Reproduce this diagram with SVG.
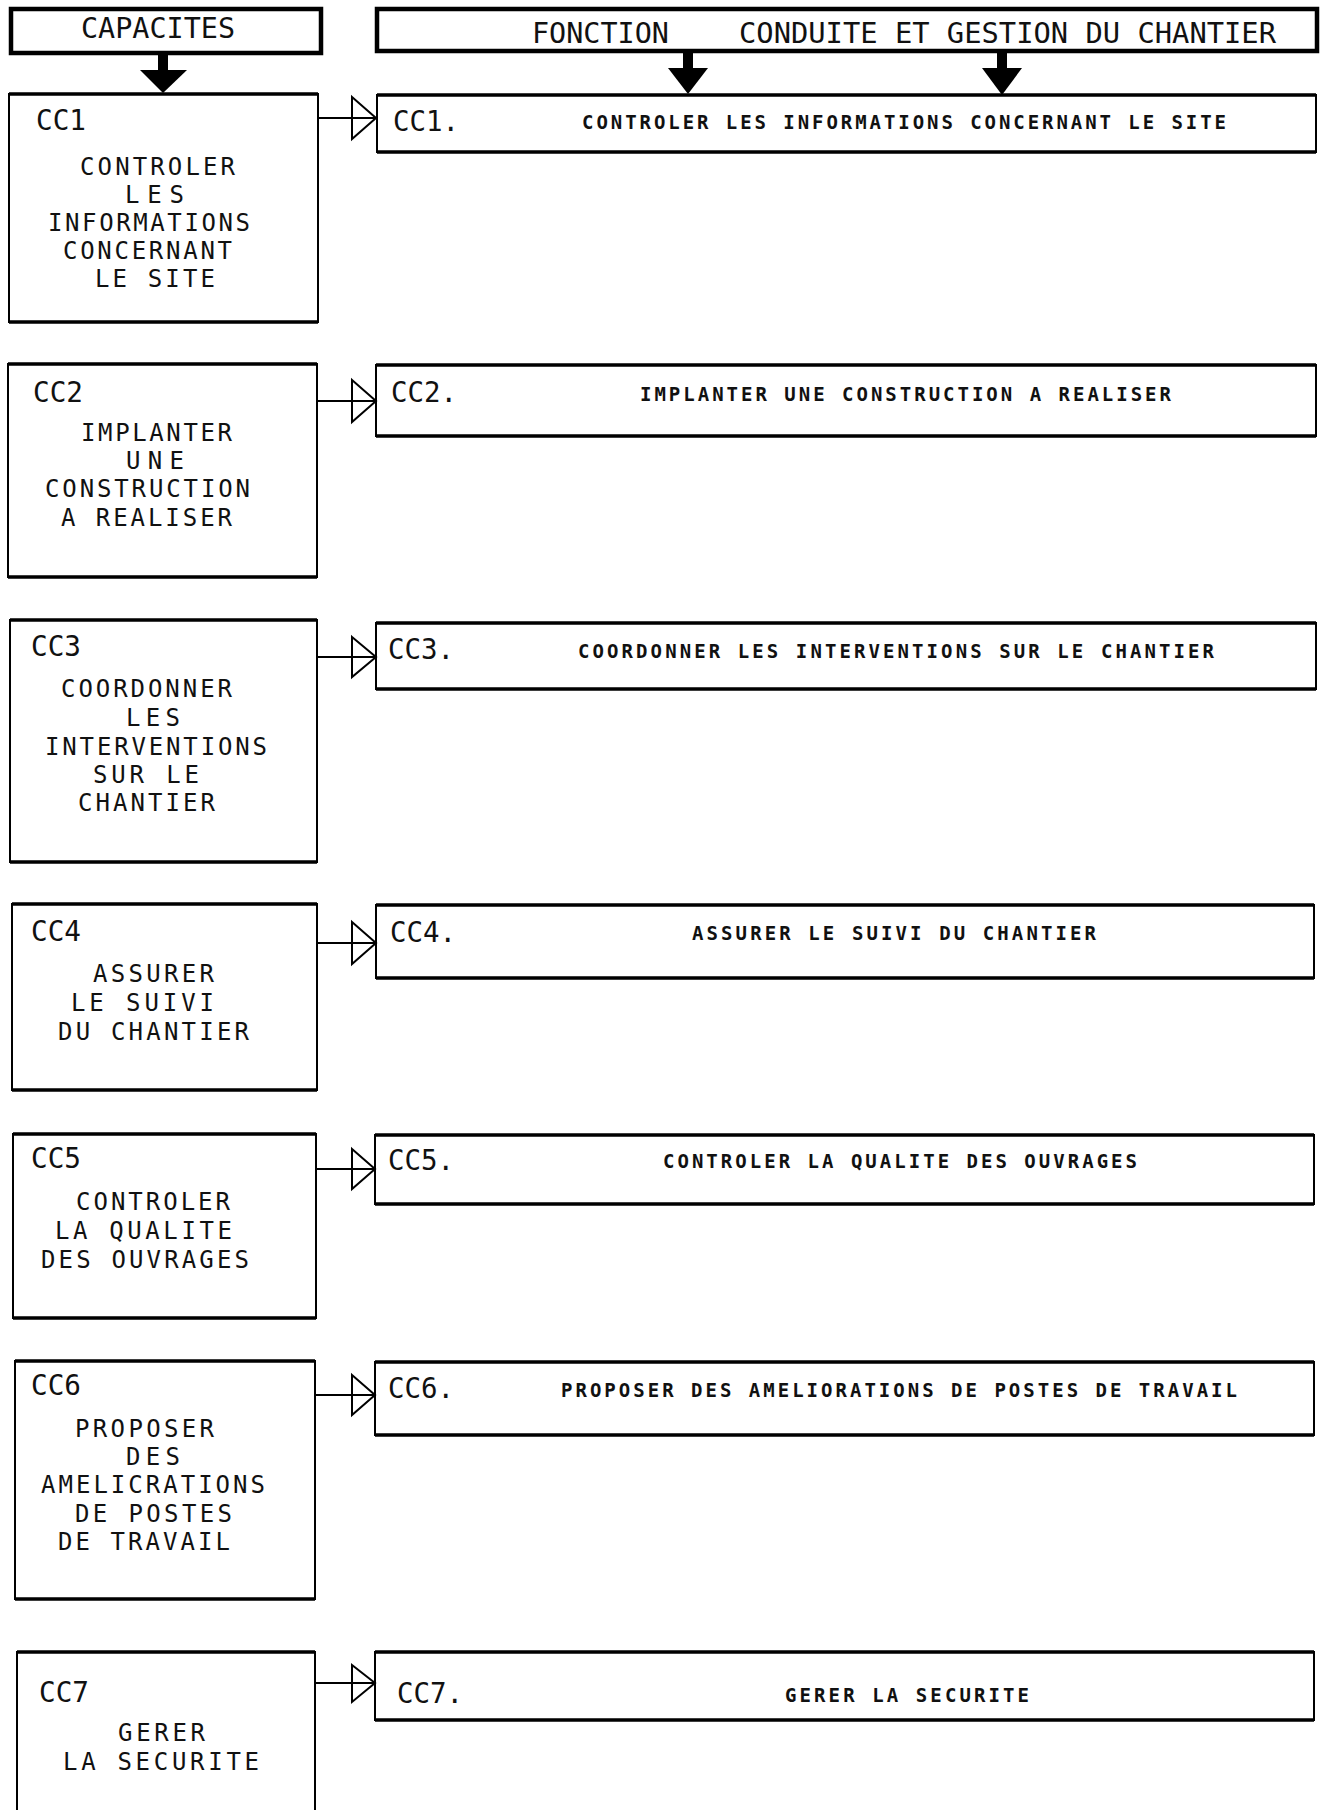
<svg xmlns="http://www.w3.org/2000/svg" width="1324" height="1810" viewBox="0 0 1324 1810">
<style>
.bg{fill:#fff}
.box{fill:none;stroke:#000;stroke-width:2}
.tb{fill:none;stroke:#000;stroke-width:3.5}
.hdr{fill:none;stroke:#000;stroke-width:4.5}
.ln{fill:none;stroke:#000;stroke-width:2.2}
.tri{fill:none;stroke:#000;stroke-width:2}
.stem{fill:none;stroke:#000;stroke-width:10}
.ah{fill:#000;stroke:none}
text{font-family:"DejaVu Sans Mono","Liberation Mono",monospace;fill:#111}
.head{font-size:29px}
.body{font-size:24px}
.lab{font-size:29px}
.sm{font-size:19px;font-weight:bold}
</style>
<rect class="bg" x="0" y="0" width="1324" height="1810"/>

<g id="hdr-capacites">
<rect class="hdr" x="11" y="9" width="310" height="44"/>
<text class="head" x="81" y="38" textLength="154" lengthAdjust="spacingAndGlyphs">CAPACITES</text>
</g>
<g id="hdr-fonction">
<rect class="hdr" x="377" y="9" width="940" height="42"/>
<text class="head" x="532" y="43" textLength="137" lengthAdjust="spacingAndGlyphs">FONCTION</text>
<text class="head" x="739" y="43" textLength="537" lengthAdjust="spacingAndGlyphs">CONDUITE ET GESTION DU CHANTIER</text>
</g>

<g id="cc1-cap">
<rect class="box" x="9" y="94" width="309" height="228"/>
<path class="tb" d="M9 94H318M9 322H318"/>
<text class="lab" x="36" y="130" textLength="50" lengthAdjust="spacingAndGlyphs">CC1</text>
<text class="body"><tspan x="80" y="175" textLength="155" lengthAdjust="spacing">CONTROLER</tspan><tspan x="125" y="203" textLength="59" lengthAdjust="spacing">LES</tspan><tspan x="48" y="231" textLength="202" lengthAdjust="spacing">INFORMATIONS</tspan><tspan x="63" y="259" textLength="169" lengthAdjust="spacing">CONCERNANT</tspan><tspan x="95" y="287" textLength="120" lengthAdjust="spacing">LE SITE</tspan></text>
</g>
<g id="cc1-fn">
<rect class="box" x="377" y="95" width="939" height="57"/>
<path class="tb" d="M377 95H1316M377 152H1316"/>
<text class="lab" x="393" y="131" textLength="66" lengthAdjust="spacingAndGlyphs">CC1.</text>
<text class="sm" x="582" y="129" textLength="644" lengthAdjust="spacing">CONTROLER LES INFORMATIONS CONCERNANT LE SITE</text>
</g>

<g id="cc2-cap">
<rect class="box" x="8" y="364" width="309" height="213"/>
<path class="tb" d="M8 364H317M8 577H317"/>
<text class="lab" x="33" y="402" textLength="50" lengthAdjust="spacingAndGlyphs">CC2</text>
<text class="body"><tspan x="81" y="441" textLength="151" lengthAdjust="spacing">IMPLANTER</tspan><tspan x="126" y="469" textLength="58" lengthAdjust="spacing">UNE</tspan><tspan x="45" y="497" textLength="205" lengthAdjust="spacing">CONSTRUCTION</tspan><tspan x="61" y="526" textLength="171" lengthAdjust="spacing">A REALISER</tspan></text>
</g>
<g id="cc2-fn">
<rect class="box" x="376" y="365" width="940" height="71"/>
<path class="tb" d="M376 365H1316M376 436H1316"/>
<text class="lab" x="391" y="402" textLength="66" lengthAdjust="spacingAndGlyphs">CC2.</text>
<text class="sm" x="640" y="401" textLength="531" lengthAdjust="spacing">IMPLANTER UNE CONSTRUCTION A REALISER</text>
</g>

<g id="cc3-cap">
<rect class="box" x="10" y="620" width="307" height="242"/>
<path class="tb" d="M10 620H317M10 862H317"/>
<text class="lab" x="31" y="656" textLength="50" lengthAdjust="spacingAndGlyphs">CC3</text>
<text class="body"><tspan x="61" y="697" textLength="171" lengthAdjust="spacing">COORDONNER</tspan><tspan x="126" y="726" textLength="54" lengthAdjust="spacing">LES</tspan><tspan x="45" y="755" textLength="222" lengthAdjust="spacing">INTERVENTIONS</tspan><tspan x="93" y="783" textLength="106" lengthAdjust="spacing">SUR LE</tspan><tspan x="78" y="811" textLength="137" lengthAdjust="spacing">CHANTIER</tspan></text>
</g>
<g id="cc3-fn">
<rect class="box" x="376" y="623" width="940" height="66"/>
<path class="tb" d="M376 623H1316M376 689H1316"/>
<text class="lab" x="388" y="659" textLength="66" lengthAdjust="spacingAndGlyphs">CC3.</text>
<text class="sm" x="578" y="658" textLength="636" lengthAdjust="spacing">COORDONNER LES INTERVENTIONS SUR LE CHANTIER</text>
</g>

<g id="cc4-cap">
<rect class="box" x="12" y="904" width="305" height="186"/>
<path class="tb" d="M12 904H317M12 1090H317"/>
<text class="lab" x="31" y="941" textLength="50" lengthAdjust="spacingAndGlyphs">CC4</text>
<text class="body"><tspan x="93" y="982" textLength="121" lengthAdjust="spacing">ASSURER</tspan><tspan x="71" y="1011" textLength="143" lengthAdjust="spacing">LE SUIVI</tspan><tspan x="58" y="1040" textLength="191" lengthAdjust="spacing">DU CHANTIER</tspan></text>
</g>
<g id="cc4-fn">
<rect class="box" x="376" y="905" width="938" height="73"/>
<path class="tb" d="M376 905H1314M376 978H1314"/>
<text class="lab" x="390" y="942" textLength="66" lengthAdjust="spacingAndGlyphs">CC4.</text>
<text class="sm" x="692" y="940" textLength="404" lengthAdjust="spacing">ASSURER LE SUIVI DU CHANTIER</text>
</g>

<g id="cc5-cap">
<rect class="box" x="13" y="1134" width="303" height="184"/>
<path class="tb" d="M13 1134H316M13 1318H316"/>
<text class="lab" x="31" y="1168" textLength="50" lengthAdjust="spacingAndGlyphs">CC5</text>
<text class="body"><tspan x="76" y="1210" textLength="154" lengthAdjust="spacing">CONTROLER</tspan><tspan x="55" y="1239" textLength="177" lengthAdjust="spacing">LA QUALITE</tspan><tspan x="41" y="1268" textLength="208" lengthAdjust="spacing">DES OUVRAGES</tspan></text>
</g>
<g id="cc5-fn">
<rect class="box" x="375" y="1135" width="939" height="69"/>
<path class="tb" d="M375 1135H1314M375 1204H1314"/>
<text class="lab" x="388" y="1170" textLength="66" lengthAdjust="spacingAndGlyphs">CC5.</text>
<text class="sm" x="663" y="1168" textLength="474" lengthAdjust="spacing">CONTROLER LA QUALITE DES OUVRAGES</text>
</g>

<g id="cc6-cap">
<rect class="box" x="15" y="1361" width="300" height="238"/>
<path class="tb" d="M15 1361H315M15 1599H315"/>
<text class="lab" x="31" y="1395" textLength="50" lengthAdjust="spacingAndGlyphs">CC6</text>
<text class="body"><tspan x="75" y="1437" textLength="139" lengthAdjust="spacing">PROPOSER</tspan><tspan x="126" y="1465" textLength="54" lengthAdjust="spacing">DES</tspan><tspan x="41" y="1493" textLength="224" lengthAdjust="spacing">AMELICRATIONS</tspan><tspan x="75" y="1522" textLength="157" lengthAdjust="spacing">DE POSTES</tspan><tspan x="58" y="1550" textLength="172" lengthAdjust="spacing">DE TRAVAIL</tspan></text>
</g>
<g id="cc6-fn">
<rect class="box" x="375" y="1362" width="939" height="73"/>
<path class="tb" d="M375 1362H1314M375 1435H1314"/>
<text class="lab" x="388" y="1398" textLength="66" lengthAdjust="spacingAndGlyphs">CC6.</text>
<text class="sm" x="561" y="1397" textLength="676" lengthAdjust="spacing">PROPOSER DES AMELIORATIONS DE POSTES DE TRAVAIL</text>
</g>

<g id="cc7-cap">
<path class="box" d="M17 1815V1652H315V1815"/>
<path class="tb" d="M17 1652H315"/>
<text class="lab" x="39" y="1702" textLength="50" lengthAdjust="spacingAndGlyphs">CC7</text>
<text class="body"><tspan x="118" y="1741" textLength="87" lengthAdjust="spacing">GERER</tspan><tspan x="63" y="1770" textLength="196" lengthAdjust="spacing">LA SECURITE</tspan></text>
</g>
<g id="cc7-fn">
<rect class="box" x="375" y="1652" width="939" height="68"/>
<path class="tb" d="M375 1652H1314M375 1720H1314"/>
<text class="lab" x="397" y="1703" textLength="66" lengthAdjust="spacingAndGlyphs">CC7.</text>
<text class="sm" x="785" y="1702" textLength="244" lengthAdjust="spacing">GERER LA SECURITE</text>
</g>

<g id="connectors">
<path class="stem" d="M163 53V72M688 51V70M1002 51V70"/>
<polygon class="ah" points="140,70 187,70 163,93"/>
<polygon class="ah" points="668,68 708,68 688,94"/>
<polygon class="ah" points="982,68 1022,68 1002,95"/>
<path class="ln" d="M318 118H377M317 401H376M317 657H376M317 943H376M316 1169H375M315 1395H375M315 1683H375"/>
<polygon class="tri" points="352,97 376,118 352,139"/>
<polygon class="tri" points="352,380 376,401 352,422"/>
<polygon class="tri" points="352,637 376,657 352,677"/>
<polygon class="tri" points="352,922 376,943 352,964"/>
<polygon class="tri" points="352,1149 375,1169 352,1189"/>
<polygon class="tri" points="352,1375 375,1395 352,1415"/>
<polygon class="tri" points="352,1665 375,1683 352,1702"/>
</g>
</svg>
